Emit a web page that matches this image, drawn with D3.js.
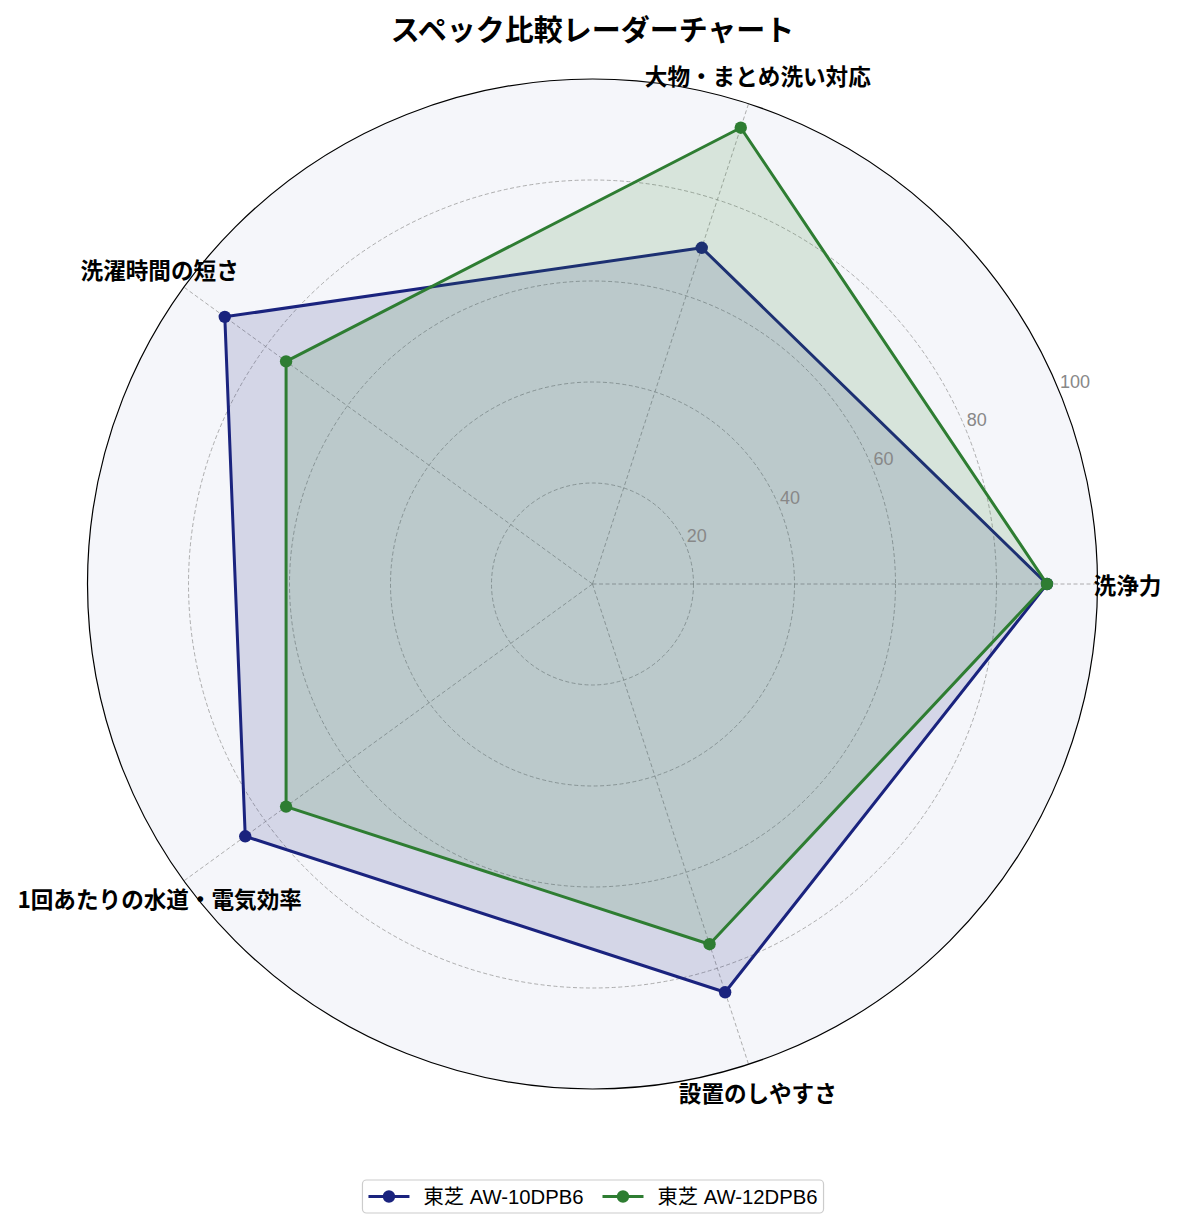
<!DOCTYPE html>
<html><head><meta charset="utf-8">
<script src="https://cdn.jsdelivr.net/npm/d3@7"></script>
<style>body{margin:0;background:#fff}svg{display:block}</style>
</head><body><svg id="c" width="1177" height="1229"></svg>
<script>
const categories = ["洗浄力","大物・まとめ洗い対応","洗濯時間の短さ","1回あたりの水道・電気効率","設置のしやすさ"];
const seriesNames = ["東芝 AW-10DPB6","東芝 AW-12DPB6"];
const valuesA = [90,70,90,85,85];
const valuesB = [90,95,75,75,75];
const radialTicks = [20,40,60,80,100];
const seriesColors = ["#1a237e","#2e7d32"];
const titleText = "スペック比較レーダーチャート";

const FONT = "'Noto Sans CJK JP','Noto Sans',sans-serif";
const FONT_LAT = "'Liberation Sans','Noto Sans CJK JP',sans-serif";
const svg = d3.select("#c");
const cx = 592.5, cy = 584, R = 505;
const rScale = d3.scaleLinear().domain([0,100]).range([0,R]);
const aScale = d3.scaleLinear().domain([0,categories.length]).range([0,2*Math.PI]);
const px = (a,r)=>cx + r*Math.cos(a);
const py = (a,r)=>cy - r*Math.sin(a);

const g = svg.append("g");
// background
g.append("circle").attr("cx",cx).attr("cy",cy).attr("r",R).attr("fill","#f5f6fa");
// rings
g.selectAll(".ring").data(radialTicks.filter(t=>t<100)).join("circle")
  .attr("cx",cx).attr("cy",cy).attr("r",d=>rScale(d))
  .attr("fill","none").attr("stroke","#9a9a9a").attr("stroke-width",0.8).attr("stroke-dasharray","4,2.5");
// spokes
g.selectAll(".spoke").data(categories).join("line")
  .attr("x1",cx).attr("y1",cy)
  .attr("x2",(d,i)=>px(aScale(i),R)).attr("y2",(d,i)=>py(aScale(i),R))
  .attr("stroke","#9a9a9a").attr("stroke-width",0.8).attr("stroke-dasharray","4,2.5");

// series
[valuesA,valuesB].forEach((vals,si)=>{
  const pts = vals.map((v,i)=>[px(aScale(i),rScale(v)), py(aScale(i),rScale(v))]);
  const line = d3.line().curve(d3.curveLinearClosed);
  g.append("path").attr("d",line(pts)).attr("fill",seriesColors[si]).attr("fill-opacity",0.15).attr("stroke","none");
  g.append("path").attr("d",line(pts)).attr("fill","none").attr("stroke",seriesColors[si]).attr("stroke-width",3).attr("stroke-linejoin","round");
  g.selectAll(null).data(pts).join("circle").attr("cx",d=>d[0]).attr("cy",d=>d[1]).attr("r",6.2).attr("fill",seriesColors[si]);
});

// outer circle
g.append("circle").attr("cx",cx).attr("cy",cy).attr("r",R).attr("fill","none").attr("stroke","#000").attr("stroke-width",1.2);

// radial tick labels
const la = 22.5*Math.PI/180;
g.selectAll(".rt").data(radialTicks).join("text")
  .attr("x",d=>px(la,rScale(d))+1).attr("y",d=>py(la,rScale(d)) - 3)
  .attr("font-family",FONT_LAT).attr("font-size",18).attr("fill","#888")
  .text(d=>d);

// category labels
g.selectAll(".cl").data(categories).join("text")
  .attr("x",(d,i)=>px(aScale(i),R+30)).attr("y",(d,i)=>py(aScale(i),R+30))
  .attr("text-anchor","middle").attr("dominant-baseline","central")
  .attr("font-family",FONT).attr("font-size",22.6).attr("font-weight","bold").attr("fill","#000")
  .text(d=>d);

// title
svg.append("text").attr("x",592.5).attr("y",28).attr("text-anchor","middle").attr("dominant-baseline","central")
  .attr("font-family",FONT).attr("font-size",29).attr("font-weight","bold").text(titleText);

// legend
const lg = svg.append("g");
const fs = 20.3, lineLen = 41, gapAfterLine = 14, itemGap = 19, padX = 6;
const items = seriesNames.map((n,i)=>{
  const t = lg.append("text").attr("font-family",FONT_LAT).attr("font-size",fs).attr("dominant-baseline","central").text(n);
  return {t, w: t.node().getComputedTextLength(), i};
});
let total = padX*2 + items.reduce((s,it)=>s+lineLen+gapAfterLine+it.w,0) + itemGap*(items.length-1);
const lx0 = 593 - total/2, ly = 1196.5;
lg.insert("rect",":first-child").attr("x",lx0).attr("y",ly-16.5).attr("width",total).attr("height",33)
  .attr("rx",4).attr("fill","#fff").attr("stroke","#cccccc").attr("stroke-width",1.2);
let xx = lx0 + padX;
items.forEach(it=>{
  lg.append("line").attr("x1",xx).attr("x2",xx+lineLen).attr("y1",ly).attr("y2",ly).attr("stroke",seriesColors[it.i]).attr("stroke-width",3);
  lg.append("circle").attr("cx",xx+lineLen/2).attr("cy",ly).attr("r",6.2).attr("fill",seriesColors[it.i]);
  it.t.attr("x",xx+lineLen+gapAfterLine).attr("y",ly);
  xx += lineLen+gapAfterLine+it.w+itemGap;
});
</script></body></html>
